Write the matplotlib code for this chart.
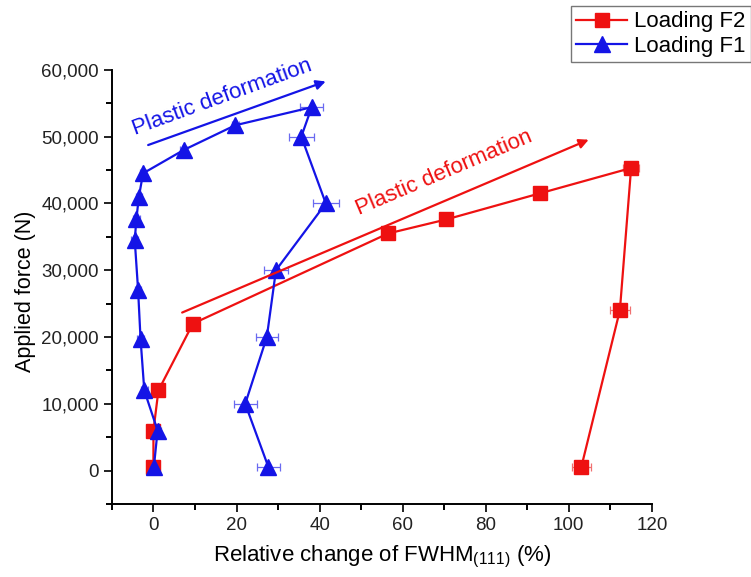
import matplotlib.pyplot as plt
from matplotlib.ticker import MultipleLocator, FuncFormatter

# Loading F2 (red squares)
f2_x = [0.0, 0.0, 1.2, 9.5, 56.5, 70.5, 93.0, 115.0, 112.3, 103.0]
f2_y = [500, 6000, 12000, 22000, 35500, 37600, 41500, 45300, 24000, 500]
f2_err = [0.8, 0.8, 0.8, 1.0, 1.0, 1.0, 1.0, 2.0, 2.4, 2.3]

# Loading F1 (blue triangles)
f1_x = [0.1, 1.0, -2.2, -3.1, -3.7, -4.5, -4.1, -3.5, -2.5, 7.3, 19.7,
        38.1, 35.6, 41.5, 29.5, 27.3, 22.1, 27.7]
f1_y = [500, 6000, 12000, 19700, 27100, 34500, 37700, 41000, 44500, 48000,
        51700, 54400, 50000, 40000, 30000, 20000, 10000, 500]
f1_err = [0.8, 0.8, 0.8, 0.8, 0.8, 0.8, 0.8, 0.8, 0.8, 0.8, 0.8,
          2.7, 3.0, 3.2, 3.0, 2.7, 2.8, 2.8]

# annotation arrows: (start, end) in data units
blue_arrow = [(-1.9, 48600), (42.1, 58400)]
red_arrow = [(6.3, 23500), (105.4, 49700)]

RED = '#ee1111'
BLUE = '#1414e6'

plt.rcParams['font.family'] = ['Liberation Sans', 'DejaVu Sans']
plt.rcParams['mathtext.fontset'] = 'custom'
plt.rcParams['mathtext.rm'] = 'Liberation Sans'
plt.rcParams['mathtext.it'] = 'Liberation Sans:italic'

fig = plt.figure(figsize=(7.51, 5.77), dpi=100)
ax = fig.add_axes([0.149, 0.1265, 0.719, 0.7525])

ax.errorbar(f2_x, f2_y, xerr=f2_err, fmt='none', ecolor='#f07070',
            elinewidth=0.9, capsize=3, capthick=0.9, zorder=2)
ax.errorbar(f1_x, f1_y, xerr=f1_err, fmt='none', ecolor='#6a6af0',
            elinewidth=0.9, capsize=3, capthick=0.9, zorder=2)

ax.plot(f2_x, f2_y, color=RED, marker='s', markersize=10.5, lw=1.6,
        label='Loading F2', zorder=3)
ax.plot(f1_x, f1_y, color=BLUE, marker='^', markersize=11, lw=1.6,
        label='Loading F1', zorder=3)

ax.annotate('', xy=blue_arrow[1], xytext=blue_arrow[0],
            arrowprops=dict(arrowstyle='-|>', color=BLUE, lw=1.6,
                            mutation_scale=14))
ax.annotate('', xy=red_arrow[1], xytext=red_arrow[0],
            arrowprops=dict(arrowstyle='-|>', color=RED, lw=1.6,
                            mutation_scale=14))

ax.text(16.6, 55900, 'Plastic deformation', color=BLUE, fontsize=16,
        rotation=20, ha='center', va='center', rotation_mode='anchor')
ax.text(70.0, 44500, 'Plastic deformation', color=RED, fontsize=16,
        rotation=23, ha='center', va='center', rotation_mode='anchor')

ax.set_xlim(-10, 120)
ax.set_ylim(-5000, 60000)
ax.xaxis.set_major_locator(MultipleLocator(20))
ax.xaxis.set_minor_locator(MultipleLocator(10))
ax.yaxis.set_major_locator(MultipleLocator(10000))
ax.yaxis.set_minor_locator(MultipleLocator(5000))
ax.yaxis.set_major_formatter(FuncFormatter(lambda v, p: f'{int(v):,}'))

for s in ['top', 'right']:
    ax.spines[s].set_visible(False)
for s in ['left', 'bottom']:
    ax.spines[s].set_linewidth(1.4)
ax.tick_params(which='major', direction='out', length=6, width=1.4,
               labelsize=13.5, colors='#222222')
ax.tick_params(which='minor', direction='out', length=4, width=1.4)

ax.set_xlabel('Relative change of FWHM$_{\\mathrm{(111)}}$ (%)',
              fontsize=16, labelpad=7)
ax.set_ylabel('Applied force (N)', fontsize=15.5)
ax.yaxis.set_label_coords(-0.14, 0.49)

fig.legend(loc='upper right', bbox_to_anchor=(1.0, 0.99), fontsize=16,
           frameon=True, fancybox=False, edgecolor='#555555',
           handlelength=2.3, handletextpad=0.3, borderpad=0.25,
           labelspacing=0.15, borderaxespad=0)

fig.savefig('out.png', dpi=100)
